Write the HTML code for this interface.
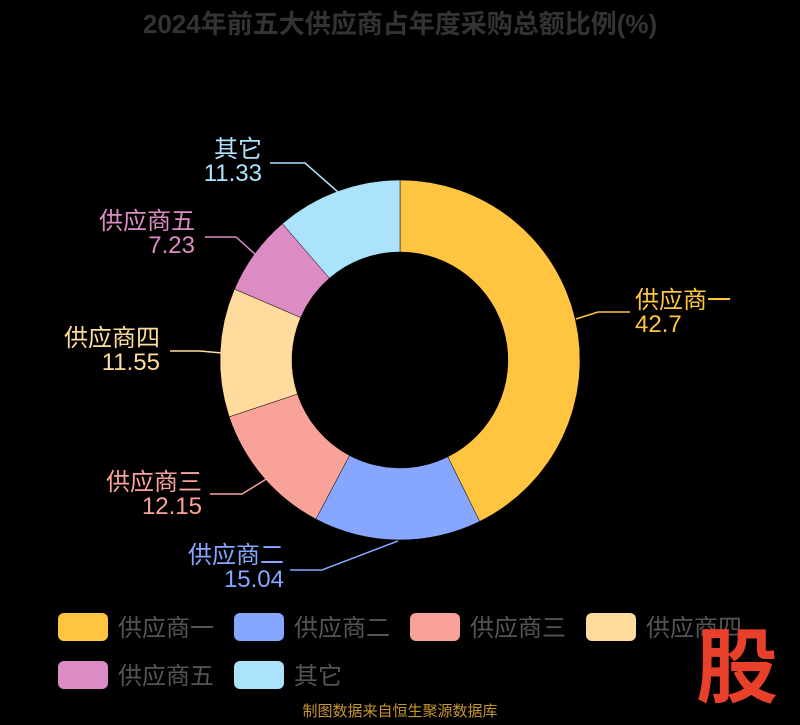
<!DOCTYPE html>
<html><head><meta charset="utf-8"><style>
body{margin:0;background:#000;width:800px;height:720px;overflow:hidden}
svg text{font-family:"Liberation Sans","Noto Sans CJK SC",sans-serif}
</style></head><body>
<svg width="800" height="720" xmlns="http://www.w3.org/2000/svg">
<rect width="800" height="720" fill="#000"/>
<text x="400" y="33" text-anchor="middle" font-size="26" font-weight="bold" fill="#333">2024年前五大供应商占年度采购总额比例(%)</text>
<g stroke="#000" stroke-width="0.5">
<path d="M400,180 A180,180 0 0 1 479.7,521.4 L447.8,456.8 A108,108 0 0 0 400,252 Z" fill="#ffc540"/>
<path d="M479.7,521.4 A180,180 0 0 1 315.9,519.1 L349.5,455.5 A108,108 0 0 0 447.8,456.8 Z" fill="#86a6ff"/>
<path d="M315.9,519.1 A180,180 0 0 1 229.2,416.8 L297.5,394.1 A108,108 0 0 0 349.5,455.5 Z" fill="#f9a29a"/>
<path d="M229.2,416.8 A180,180 0 0 1 234.5,289.1 L300.7,317.5 A108,108 0 0 0 297.5,394.1 Z" fill="#ffdc9e"/>
<path d="M234.5,289.1 A180,180 0 0 1 282.4,223.7 L329.4,278.2 A108,108 0 0 0 300.7,317.5 Z" fill="#dc8cc4"/>
<path d="M282.4,223.7 A180,180 0 0 1 400,180 L400,252 A108,108 0 0 0 329.4,278.2 Z" fill="#ace3fc"/>
</g>
<g fill="none" stroke-width="1.5">
<polyline points="576,319 598,312 630,312" stroke="#ffc540"/>
<polyline points="398,541 322,570 290,570" stroke="#86a6ff"/>
<polyline points="268,478 242,494 210,494" stroke="#f9a29a"/>
<polyline points="222,353 200,351 170,351" stroke="#ffdc9e"/>
<polyline points="256,255 236,237 205,237" stroke="#dc8cc4"/>
<polyline points="338,192 305,163 270,163" stroke="#ace3fc"/>
</g>
<g font-size="24">
<text x="635" y="308" fill="#ffc540">供应商一</text><text x="635" y="332" fill="#ffc540">42.7</text>
<text x="284" y="563" text-anchor="end" fill="#86a6ff">供应商二</text><text x="284" y="587" text-anchor="end" fill="#86a6ff">15.04</text>
<text x="202" y="490" text-anchor="end" fill="#f9a29a">供应商三</text><text x="202" y="514" text-anchor="end" fill="#f9a29a">12.15</text>
<text x="160" y="346" text-anchor="end" fill="#ffdc9e">供应商四</text><text x="160" y="370" text-anchor="end" fill="#ffdc9e">11.55</text>
<text x="195" y="229" text-anchor="end" fill="#dc8cc4">供应商五</text><text x="195" y="253" text-anchor="end" fill="#dc8cc4">7.23</text>
<text x="262" y="157" text-anchor="end" fill="#ace3fc">其它</text><text x="262" y="181" text-anchor="end" fill="#ace3fc">11.33</text>
</g>
<g font-size="24" fill="#555">
<rect x="58" y="613" width="50" height="28" rx="6" fill="#ffc540"/><text x="118" y="636">供应商一</text>
<rect x="234" y="613" width="50" height="28" rx="6" fill="#86a6ff"/><text x="294" y="636">供应商二</text>
<rect x="410" y="613" width="50" height="28" rx="6" fill="#f9a29a"/><text x="470" y="636">供应商三</text>
<rect x="586" y="613" width="50" height="28" rx="6" fill="#ffdc9e"/><text x="646" y="636">供应商四</text>
<rect x="58" y="661" width="50" height="28" rx="6" fill="#dc8cc4"/><text x="118" y="684">供应商五</text>
<rect x="234" y="661" width="50" height="28" rx="6" fill="#ace3fc"/><text x="294" y="684">其它</text>
</g>
<text x="737" y="696" text-anchor="middle" font-size="82" font-weight="bold" fill="#e8402a">股</text>
<text x="400" y="716" text-anchor="middle" font-size="15" fill="#c8962e">制图数据来自恒生聚源数据库</text>
</svg>
</body></html>
